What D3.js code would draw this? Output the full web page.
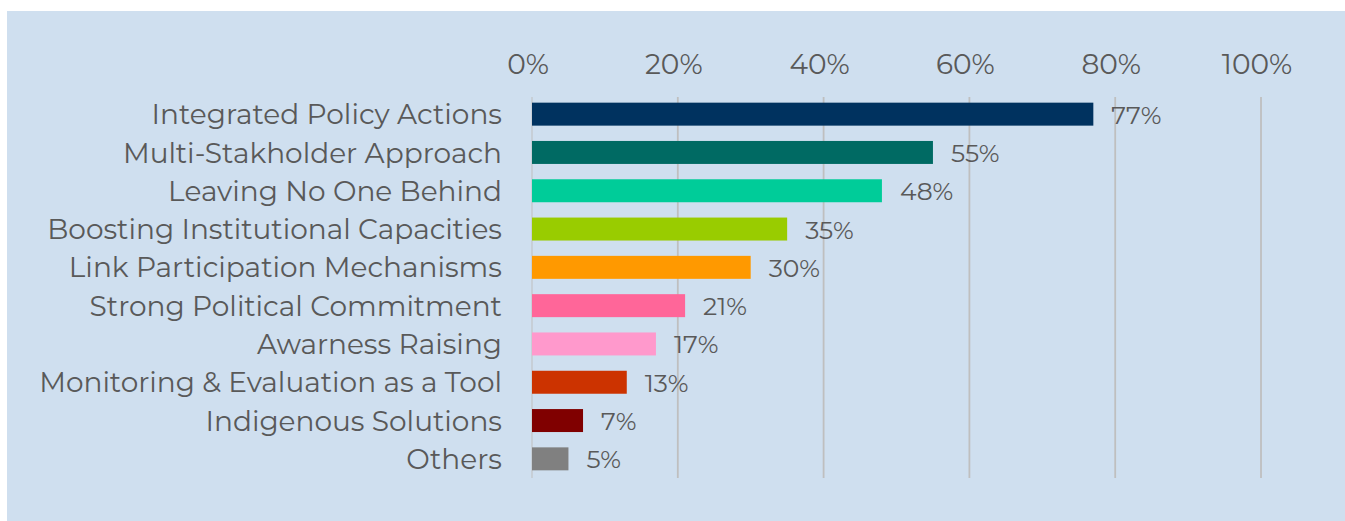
<!DOCTYPE html>
<html lang="en">
<head>
<meta charset="utf-8">
<script src="https://d3js.org/d3.v7.min.js"></script>
<style>
  body { margin: 0; background: #fff; }
  text { font-family: Montserrat, "DejaVu Sans", sans-serif; fill: #595959; }
</style>
</head>
<body>
<script>
var categories = ["Integrated Policy Actions", "Multi-Stakholder Approach", "Leaving No One Behind",
                  "Boosting Institutional Capacities", "Link Participation Mechanisms",
                  "Strong Political Commitment", "Awarness Raising", "Monitoring & Evaluation as a Tool",
                  "Indigenous Solutions", "Others"];
var values = [77, 55, 48, 35, 30, 21, 17, 13, 7, 5];
var colors = ["#00325f", "#006a63", "#00cc99", "#99cc00", "#ff9900",
              "#ff6699", "#ff99cc", "#cc3300", "#800000", "#808080"];
var ticks = [0, 20, 40, 60, 80, 100];

var width = 1345, height = 521;

var svg = d3.select("body").append("svg")
    .attr("width", width)
    .attr("height", height);

// panel
svg.append("rect")
    .attr("x", 7).attr("y", 11)
    .attr("width", width - 7).attr("height", height - 11)
    .attr("fill", "#cfdfef");

var x = d3.scaleLinear().domain([0, 100]).range([532, 1261]);
var y = d3.scaleBand().domain(categories).range([95, 478])
    .paddingInner(0.4).paddingOuter(0.2);

// gridlines
svg.selectAll(".grid")
    .data(ticks)
    .enter().append("line")
    .attr("x1", d => x(d)).attr("x2", d => x(d))
    .attr("y1", 97).attr("y2", 478)
    .attr("stroke", "#bfbfbf")
    .attr("stroke-width", d => d == 0 ? 1 : 1.8);

// top tick labels
svg.selectAll(".tick")
    .data(ticks)
    .enter().append("text")
    .attr("x", d => x(d) - 4)
    .attr("y", 74)
    .attr("text-anchor", "middle")
    .style("font-size", "28px")
    .text(d => d + "%");

// bars
svg.selectAll(".bar")
    .data(values)
    .enter().append("rect")
    .attr("x", x(0))
    .attr("y", (d, i) => y(categories[i]))
    .attr("width", d => x(d) - x(0))
    .attr("height", y.bandwidth())
    .attr("fill", (d, i) => colors[i]);

// value labels
svg.selectAll(".val")
    .data(values)
    .enter().append("text")
    .attr("x", d => x(d) + 18)
    .attr("y", (d, i) => y(categories[i]) + y.bandwidth() / 2)
    .attr("dy", "0.38em")
    .style("font-size", "25px")
    .text(d => d + "%");

// category labels
svg.selectAll(".cat")
    .data(categories)
    .enter().append("text")
    .attr("x", 502)
    .attr("y", d => y(d) + y.bandwidth() / 2)
    .attr("dy", "0.36em")
    .attr("text-anchor", "end")
    .style("font-size", "28px")
    .text(d => d);
</script>
</body>
</html>
